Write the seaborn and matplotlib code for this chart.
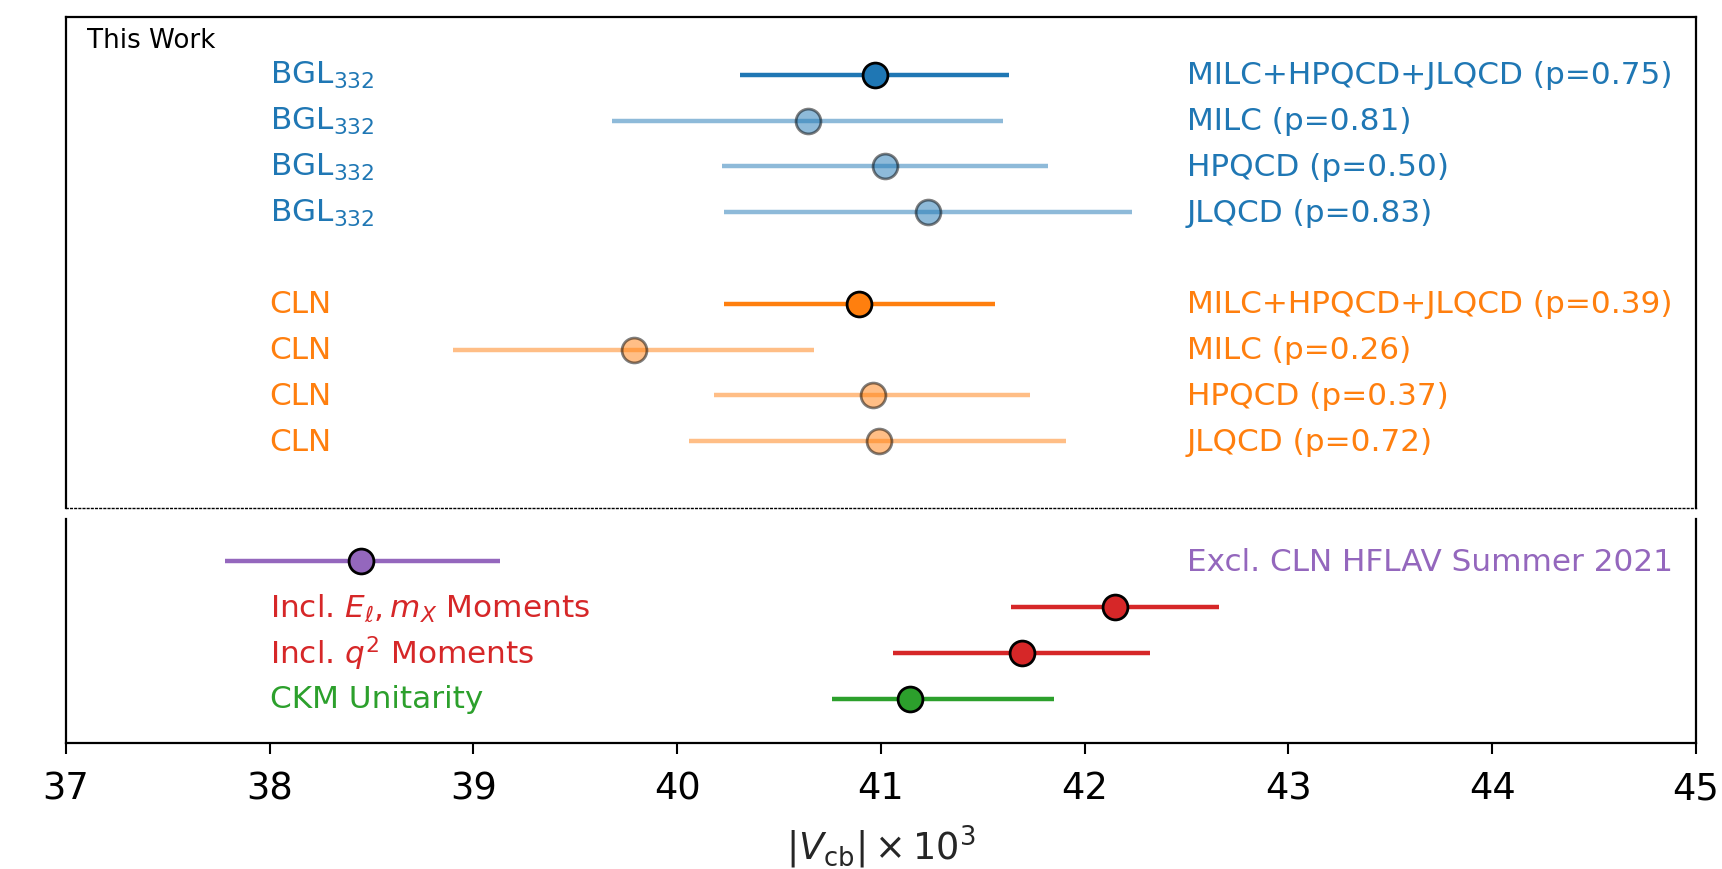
import matplotlib
matplotlib.use("Agg")
import matplotlib.pyplot as plt
import seaborn as sns
import pandas as pd

sns.set_style("white")
plt.rcParams['font.family'] = ['DejaVu Sans']

# ---- data ----
bgl_labels = ["MILC+HPQCD+JLQCD (p=0.75)", "MILC (p=0.81)", "HPQCD (p=0.50)", "JLQCD (p=0.83)"]
bgl_center = [40.97, 40.64, 41.02, 41.23]
bgl_lo = [40.31, 39.68, 40.22, 40.23]
bgl_hi = [41.63, 41.60, 41.82, 42.23]

cln_labels = ["MILC+HPQCD+JLQCD (p=0.39)", "MILC (p=0.26)", "HPQCD (p=0.37)", "JLQCD (p=0.72)"]
cln_center = [40.89, 39.79, 40.96, 40.99]
cln_lo = [40.23, 38.90, 40.18, 40.06]
cln_hi = [41.56, 40.67, 41.73, 41.91]

other_labels = ["Excl. CLN HFLAV Summer 2021", r"Incl. $E_\ell, m_X$ Moments",
                r"Incl. $q^2$ Moments", "CKM Unitarity"]
other_center = [38.45, 42.15, 41.69, 41.14]
other_lo = [37.78, 41.64, 41.06, 40.76]
other_hi = [39.13, 42.66, 42.32, 41.85]
other_colors = ["tab:purple", "tab:red", "tab:red", "tab:green"]

xticks = [37, 38, 39, 40, 41, 42, 43, 44, 45]

fig = plt.figure(figsize=(17.22, 8.70), dpi=100)
ax1 = fig.add_axes([0.0383, 0.415, 0.9466, 0.564])
ax2 = fig.add_axes([0.0383, 0.1448, 0.9466, 0.2575])

LW = 3.2
MS = 320
TXT = 22.4


def draw_group(ax, centers, los, his, ys, colors, alphas):
    df = pd.DataFrame({"x": centers, "y": ys, "c": colors, "a": alphas})
    for i, r in df.iterrows():
        ax.hlines(r["y"], los[i], his[i], color=r["c"], lw=LW, alpha=r["a"], zorder=2)
        sns.scatterplot(x=[r["x"]], y=[r["y"]], ax=ax, color=r["c"], s=MS,
                        edgecolor="black", linewidth=2.0, alpha=r["a"], zorder=3, legend=False)


# top axes
bgl_y = [0, -1, -2, -3]
cln_y = [-5, -6, -7, -8]
draw_group(ax1, bgl_center, bgl_lo, bgl_hi, bgl_y, ["tab:blue"] * 4, [1, 0.5, 0.5, 0.5])
draw_group(ax1, cln_center, cln_lo, cln_hi, cln_y, ["tab:orange"] * 4, [1, 0.5, 0.5, 0.5])
for y, lab in zip(bgl_y, bgl_labels):
    ax1.text(38.0, y, r"BGL$_{332}$", color="tab:blue", fontsize=TXT, va="center", ha="left")
    ax1.text(42.5, y, lab, color="tab:blue", fontsize=TXT, va="center", ha="left")
for y, lab in zip(cln_y, cln_labels):
    ax1.text(38.0, y, "CLN", color="tab:orange", fontsize=TXT, va="center", ha="left")
    ax1.text(42.5, y, lab, color="tab:orange", fontsize=TXT, va="center", ha="left")
ax1.text(0.013, 0.954, "This Work", transform=ax1.transAxes, fontsize=18.8,
         va="center", ha="left", color="black")
ax1.set_xlim(37, 45)
ax1.set_ylim(-9.46, 1.26)
ax1.set_xticks([])
ax1.set_yticks([])
ax1.set_xlabel("")
ax1.set_ylabel("")
for s in ["left", "right", "top"]:
    ax1.spines[s].set_color("black")
    ax1.spines[s].set_linewidth(1.6)
ax1.spines["bottom"].set_linestyle((0, (1.2, 1.8)))
ax1.spines["bottom"].set_linewidth(1.0)
ax1.spines["bottom"].set_color("black")

# lower axes
other_y = [0, -1, -2, -3]
draw_group(ax2, other_center, other_lo, other_hi, other_y, other_colors, [1, 1, 1, 1])
ax2.text(42.5, other_y[0], other_labels[0], color=other_colors[0], fontsize=TXT, va="center", ha="left")
for y, lab, c in zip(other_y[1:], other_labels[1:], other_colors[1:]):
    ax2.text(38.0, y, lab, color=c, fontsize=TXT, va="center", ha="left")
ax2.set_xlim(37, 45)
ax2.set_ylim(-3.97, 0.92)
ax2.set_yticks([])
ax2.set_ylabel("")
ax2.set_xticks(xticks)
ax2.set_xticklabels([str(t) for t in xticks])
ax2.tick_params(axis="x", bottom=True, direction="out", length=8, width=1.5,
                labelsize=26.5, pad=11, colors="black")
ax2.spines["top"].set_visible(False)
for s in ["left", "right", "bottom"]:
    ax2.spines[s].set_color("black")
    ax2.spines[s].set_linewidth(1.6)
ax2.set_xlabel(r"$|V_{\rm cb}| \times 10^3$", fontsize=26.5, labelpad=12)

fig.savefig("out.png", dpi=100)
